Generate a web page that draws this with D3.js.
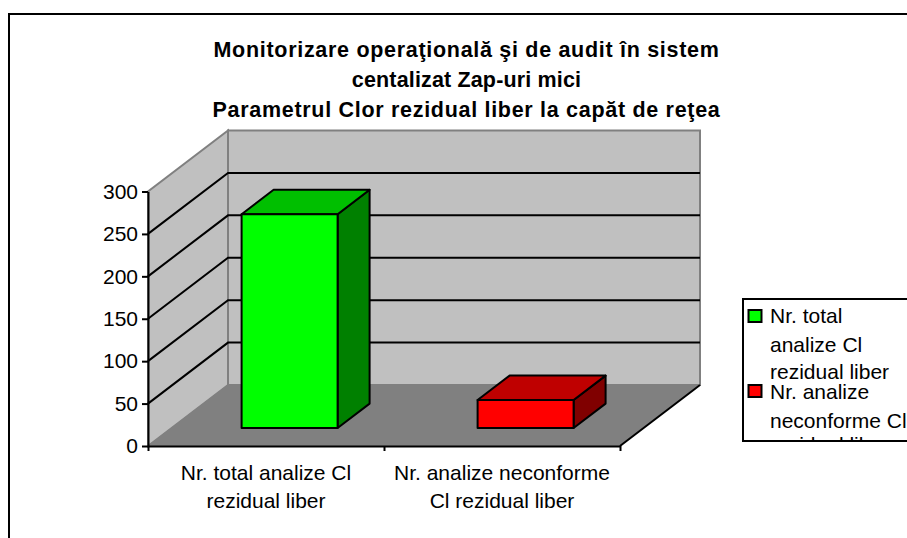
<!DOCTYPE html>
<meta charset="utf-8">
<style>
  html, body { margin: 0; padding: 0; background: #fff; overflow: hidden; }
  text { font-family: "Liberation Sans", Arial, sans-serif; fill: #000; }
</style>
<script src="https://d3js.org/d3.v7.min.js"></script>
<div id="chart"></div>
<script>

  // data
  var categories = [
    ["Nr. total analize Cl", "rezidual liber"],
    ["Nr. analize neconforme", "Cl rezidual liber"]
  ];
  var values = [252, 33];
  var yTicks = [0, 50, 100, 150, 200, 250, 300];
  var titleLines = [
    "Monitorizare operaţională şi de audit în sistem",
    "centalizat Zap-uri mici",
    "Parametrul Clor rezidual liber la capăt de reţea"
  ];
  var legendLines = [
    ["Nr. total", "analize Cl", "rezidual liber"],
    ["Nr. analize", "neconforme Cl", "rezidual liber"]
  ];
  var frontColors = ["#00FF00", "#FF0000"];
  var topColors = ["#00BF00", "#BF0000"];
  var sideColors = ["#008000", "#800000"];

  var svg = d3.select("#chart").append("svg")
    .attr("width", 907)
    .attr("height", 538);

  // outer chart frame, only left and top fall inside the picture
  svg.append("path")
    .attr("d", "M9,538V14H907")
    .attr("fill", "none")
    .attr("stroke", "#000")
    .attr("stroke-width", 2);

  // scales: x and y on the front plane, depth pushes back and up
  var x = d3.scaleBand().domain(d3.range(values.length)).range([148, 620]);
  var y = d3.scaleLinear().domain([0, 300]).range([446, 191.5]);
  var depthX = d3.scaleLinear().domain([0, 1]).range([0, 80]);
  var depthY = d3.scaleLinear().domain([0, 1]).range([0, -61]);

  function pt(px, v, d) {
    return [px + depthX(d), y(v) + depthY(d)];
  }
  var poly = d3.line();
  function face(points) { return poly(points) + "Z"; }

  var x0 = x.range()[0], x1 = x.range()[1];

  // walls and floor
  svg.append("path")
    .attr("d", face([pt(x0, 0, 0), pt(x0, 300, 0), pt(x0, 300, 1), pt(x0, 0, 1)]))
    .attr("fill", "#C0C0C0").attr("stroke", "#808080").attr("stroke-width", 2);
  svg.append("path")
    .attr("d", face([pt(x0, 0, 1), pt(x0, 300, 1), pt(x1, 300, 1), pt(x1, 0, 1)]))
    .attr("fill", "#C0C0C0").attr("stroke", "#808080").attr("stroke-width", 2);
  svg.append("path")
    .attr("d", face([pt(x0, 0, 0), pt(x0, 0, 1), pt(x1, 0, 1), pt(x1, 0, 0)]))
    .attr("fill", "#808080").attr("stroke", "#808080").attr("stroke-width", 1);

  // gridlines on both walls
  var grid = yTicks.filter(function (t) { return t > 0 && t < 300; });
  svg.append("g").selectAll("path")
    .data(grid)
    .enter().append("path")
    .attr("d", function (t) { return poly([pt(x0, t, 0), pt(x0, t, 1), pt(x1, t, 1)]); })
    .attr("fill", "none")
    .attr("stroke", "#000")
    .attr("stroke-width", 2);

  // right floor edge
  svg.append("path")
    .attr("d", poly([pt(x1, 0, 0), pt(x1, 0, 1)]))
    .attr("stroke", "#000")
    .attr("stroke-width", 2);

  // bars
  var barWidth = 96, dFront = 0.295, dBack = 0.695;
  var bars = svg.append("g").selectAll("g")
    .data(values)
    .enter().append("g")
    .attr("stroke", "#000")
    .attr("stroke-width", 2)
    .attr("stroke-linejoin", "round");

  function barLeft(i) { return x(i) + (x.bandwidth() - barWidth) / 2; }

  bars.append("path")
    .attr("fill", function (d, i) { return sideColors[i]; })
    .attr("d", function (d, i) {
      var r = barLeft(i) + barWidth;
      return face([pt(r, 0, dFront), pt(r, d, dFront), pt(r, d, dBack), pt(r, 0, dBack)]);
    });
  bars.append("path")
    .attr("fill", function (d, i) { return topColors[i]; })
    .attr("d", function (d, i) {
      var l = barLeft(i), r = l + barWidth;
      return face([pt(l, d, dFront), pt(r, d, dFront), pt(r, d, dBack), pt(l, d, dBack)]);
    });
  bars.append("path")
    .attr("fill", function (d, i) { return frontColors[i]; })
    .attr("d", function (d, i) {
      var l = barLeft(i), r = l + barWidth;
      return face([pt(l, 0, dFront), pt(r, 0, dFront), pt(r, d, dFront), pt(l, d, dFront)]);
    });

  // Y axis
  var yAxis = svg.append("g")
    .attr("transform", "translate(" + x0 + ",0)")
    .call(d3.axisLeft(y).tickValues(yTicks).tickSize(6).tickPadding(4).tickSizeOuter(0));
  yAxis.selectAll("text").style("font-size", "21px").style("font-family", "Liberation Sans");
  yAxis.selectAll("line,path").attr("stroke", "#000").attr("stroke-width", 2);

  // X axis, ticks sit between the categories
  var xEdges = d3.scaleLinear().domain([0, values.length]).range([x0, x1]);
  var xAxis = svg.append("g")
    .attr("transform", "translate(0," + y(0) + ")")
    .call(d3.axisBottom(xEdges).tickValues(d3.range(values.length + 1)).tickSize(5).tickSizeOuter(0).tickFormat(""));
  xAxis.selectAll("line,path").attr("stroke", "#000").attr("stroke-width", 2);

  // category labels
  svg.append("g").selectAll("text")
    .data(categories)
    .enter().append("text")
    .attr("text-anchor", "middle")
    .style("font-size", "21px")
    .each(function (lines, i) {
      d3.select(this).selectAll("tspan")
        .data(lines)
        .enter().append("tspan")
        .attr("x", x(i) + x.bandwidth() / 2)
        .attr("y", function (l, j) { return 480 + j * 28; })
        .text(function (l) { return l; });
    });

  // title
  svg.append("g").selectAll("text")
    .data(titleLines)
    .enter().append("text")
    .attr("x", 466.5)
    .attr("y", function (l, i) { return 57 + i * 30; })
    .attr("text-anchor", "middle")
    .style("font-size", "21.5px")
    .style("font-weight", "bold")
    .style("letter-spacing", function (l, i) { return i === 1 ? "0.15px" : "0.7px"; })
    .text(function (l) { return l; });

  // legend, its box is too small for the text just as in the original
  svg.append("defs").append("clipPath").attr("id", "legendClip")
    .append("rect").attr("x", 743).attr("y", 299).attr("width", 164).attr("height", 142);

  var legend = svg.append("g");
  legend.append("rect")
    .attr("x", 743).attr("y", 299)
    .attr("width", 170).attr("height", 142)
    .attr("fill", "#fff")
    .attr("stroke", "#000")
    .attr("stroke-width", 2);

  var legendRows = [322.5, 352, 379, 399, 428, 452];
  var legendText = legend.append("g").attr("clip-path", "url(#legendClip)");
  d3.merge(legendLines).forEach(function (l, i) {
    legendText.append("text")
      .attr("x", 770)
      .attr("y", legendRows[i])
      .style("font-size", "21px")
      .text(l);
  });

  legend.selectAll(".key")
    .data(frontColors)
    .enter().append("rect")
    .attr("class", "key")
    .attr("x", 748.5)
    .attr("y", function (c, i) { return [310, 385][i]; })
    .attr("width", 13)
    .attr("height", 12)
    .attr("fill", function (c) { return c; })
    .attr("stroke", "#000")
    .attr("stroke-width", 2);

</script>
